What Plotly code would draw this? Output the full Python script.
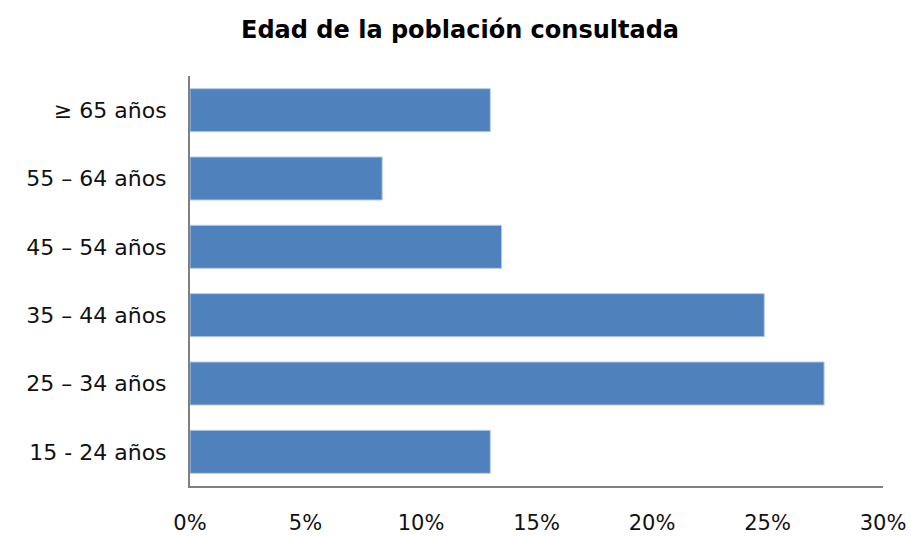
import plotly.graph_objects as go

# Age groups, listed bottom to top
categories = ["15 - 24 años", "25 – 34 años", "35 – 44 años",
              "45 – 54 años", "55 – 64 años", "≥ 65 años"]
shares = [13.0, 27.45, 24.86, 13.49, 8.32, 13.0]  # percent of respondents
x_ticks = [0, 5, 10, 15, 20, 25, 30]
x_tick_labels = ["0%", "5%", "10%", "15%", "20%", "25%", "30%"]

fig = go.Figure(
    go.Bar(
        x=shares,
        y=categories,
        orientation="h",
        marker=dict(color="#4F81BD", line=dict(color="#B9CCE4", width=1)),
        hoverinfo="x+y",
    )
)

font_family = "DejaVu Sans, Verdana, sans-serif"

fig.update_layout(
    width=911,
    height=536,
    margin=dict(l=190, r=28, t=76, b=50, autoexpand=False),
    paper_bgcolor="white",
    plot_bgcolor="white",
    bargap=0.37,
    showlegend=False,
    font=dict(family=font_family, color="#111111", size=22),
    title=dict(
        text="<b>Edad de la población consultada</b>",
        x=0.505,
        xanchor="center",
        y=0.944,
        yanchor="middle",
        font=dict(family=font_family, size=24, color="#000000"),
    ),
    xaxis=dict(
        range=[0, 30],
        tickvals=x_ticks,
        ticktext=x_tick_labels,
        showgrid=False,
        zeroline=False,
        showline=True,
        linecolor="#808080",
        linewidth=2,
        ticks="",
        automargin=False,
        ticklabelstandoff=17,
        tickfont=dict(size=21, color="#111111"),
    ),
    yaxis=dict(
        categoryorder="array",
        categoryarray=categories,
        range=[-0.5, 5.5],
        showgrid=False,
        zeroline=False,
        showline=True,
        linecolor="#808080",
        linewidth=2,
        ticks="",
        automargin=False,
        ticklabelstandoff=17,
        tickfont=dict(size=22, color="#111111"),
    ),
)

fig.write_html("out.html")
